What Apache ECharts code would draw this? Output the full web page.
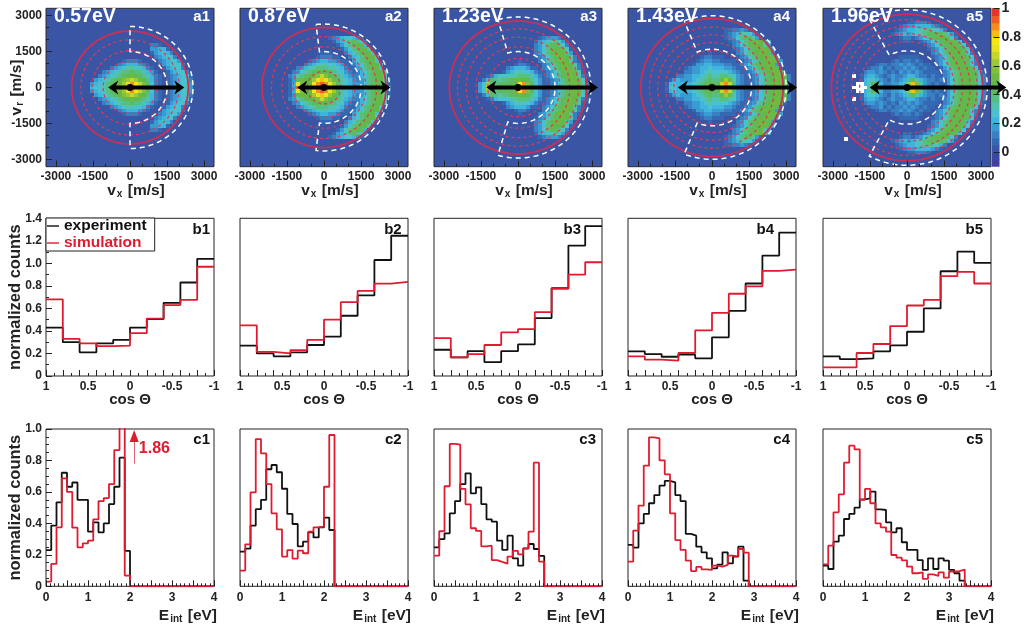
<!DOCTYPE html>
<html><head><meta charset="utf-8">
<style>html,body{margin:0;padding:0;background:#fff}#c{width:1024px;height:626px}</style>
<script src="https://cdn.jsdelivr.net/npm/echarts@6/dist/echarts.min.js"></script>
</head><body><div id="c"></div>
<script>
const energies=['0.57eV','0.87eV','1.23eV','1.43eV','1.96eV'];
const vTicks=[-3000,-1500,0,1500,3000];
const cosLabels=[1,0.5,0,-0.5,-1];
const countTicks=[0,0.2,0.4,0.6,0.8,1,1.2,1.4];
const eintLabels=[0,1,2,3,4];
const colorTicks=[0,0.2,0.4,0.6,0.8,1];
// heat levels: one char per 160 m/s cell, 0..k = 0..1 in 0.05 steps, w = empty; "left of 0|right of 0", row n = vr 160*n
const a1Rows=["4556789adf|igeb852101234563","3455789ace|hfdb852101234563","3456789bc|dca9742101234552","23456789|a987642101234551","2345677|877643100134552","23456|65542100134552","234|44321001345552","12|2210000234553","|000000234552","|00000134542","|0000033441","|00000221"];
const a2Rows=["13id9bhjk|ifc86544335789961","14eb9afhi|hec86543335789961","138a99ceg|eca86543235789961","236789abd|b987643224578995","23567889|9876532124578995","2345677|766542113578995","23456|655431124578995","1234|43321103578995","12|22110024578995","1|1100024578995","|000013578996","|00013578984","|00134678752","|0123455431"];
const a3Rows=["35d878889a|gjc8531123578aa962","35c7788889|fhb8531123578aa962","248767788|a987531123578aa95","12455566|777642123578aa9621","1345|655421123578aa961","234|44311023578aa9621","1|22100023578aa962","|1000023578aa9621","|0000123578aa962","|000023578aa963","|00002357899851","|0000235788752","|0000134567531","|000001233321"];
const a4Rows=["165444456789|88eje73211235789aa83","145444456789|88dhd73211235789aa83","13433345678|778ca63211235789aa82","223344567|6677653211235789aa82","2233456|555543211235789aa81","1233445|44433211235789aa81","13344|3332211235789aa831","1233|22111101235789aa83","122|1110001235789aa83","1|000000235789aa83","|000001235789aa83","|00000235789a963","|00001235789a963","|0001235788631","|000123466531","|0001122321"];
const a5Rows=["wwww68a5323358|djd73221213578999852","ww46974223346|cgb63212113578999852","145643213234|78643221213578999852","w0134432123223|44322121123578999852","23323212132|32321111023578999851","1223121223|2321211013578999851","12212232|321211023578999852","1212|212100023578999852","11|111000123578999851","|00000023578999852","|00000123578999851","|0000023578999851","1|100123578999851","12|2123578999852","1234|3456788887531","123|4456776542","12|334444321","|112221"];
const heatRows=[a1Rows,a2Rows,a3Rows,a4Rows,a5Rows];
const a5Holes=[[-2560,-2240]];
const palette=['#3b55a5','#3568b2','#3a7fc1','#3a9ad2','#3fb4dc','#49c1cf','#52c2ac','#58bf84','#5ebb5c','#63b84a','#6eb942','#83bf3e','#9fc838','#c3d62c','#e6e31c','#f8e50e','#f9bd12','#f58c1e','#ef5d25','#e7352a','#df1f26'];
const solidRings=[2360,2510,2780,2880,3060];
const dashRings=[[1990,1540,1090],[2130,1700,1250,680],[2450,2100,1700,1220],[2530,2200,1880,1540],[2840,2560,2250,1920]];
const outlineOuter=[2550,2650,2950,3000,3250];
const outlineInner=[1500,1500,1500,1600,1530];
const outlineAngle=[90,97,106,112,118];
const arrowLeft=[-880,-1080,-1280,-1380,-1510];
const arrowRight=[2200,2690,3240,3440,4020];
const b1Exp=[.43,.30,.21,.29,.32,.43,.505,.65,.83,1.04];
const b1Sim=[.68,.33,.29,.265,.27,.38,.51,.63,.675,.97];
const b2Exp=[.27,.20,.175,.21,.275,.35,.535,.715,1.03,1.245];
const b2Sim=[.45,.215,.20,.23,.32,.50,.655,.755,.82,.835];
const b3Exp=[.233,.165,.22,.124,.22,.28,.514,.78,1.158,1.33];
const b3Sim=[.337,.165,.195,.275,.387,.416,.567,.774,.90,1.01];
const b4Exp=[.219,.195,.171,.189,.157,.343,.579,.821,1.069,1.273];
const b4Sim=[.174,.145,.136,.204,.405,.561,.73,.795,.933,.945];
const b5Exp=[.174,.15,.157,.219,.272,.393,.6,.93,1.105,1.004];
const b5Sim=[.077,.077,.204,.284,.443,.626,.676,.886,.924,.821];
const c1Exp=[.23,.386,.534,.722,.633,.66,.55,.55,.347,.407,.343,.40,.523,.633,.818,.225];
const c1Sim=[.03,.142,.375,.686,.60,.373,.248,.273,.29,.426,.542,.561,.65,.866,1.86,.068];
const c2Exp=[.22,.24,.386,.49,.55,.744,.771,.725,.62,.46,.396,.254,.284,.343,.311,.375,.436,.358];
const c2Sim=[.10,.267,.597,.936,.845,.65,.464,.362,.189,.23,.176,.227,.21,.347,.375,.379,.633,.962];
const c3Exp=[.248,.30,.337,.464,.542,.65,.718,.591,.629,.523,.426,.411,.29,.231,.322,.178,.131,.241,.269,.237,.193];
const c3Sim=[.195,.35,.636,.905,.90,.619,.521,.369,.352,.254,.258,.167,.155,.144,.189,.225,.203,.24,.347,.786,.157];
const c4Exp=[.263,.246,.40,.46,.528,.58,.64,.67,.66,.58,.542,.333,.322,.252,.216,.178,.114,.138,.216,.146,.189,.252,.036];
const c4Sim=[.157,.354,.513,.767,.947,.94,.80,.712,.464,.294,.231,.163,.097,.123,.108,.104,.131,.125,.136,.195,.189,.237,.214];
const c5Exp=[.131,.11,.284,.322,.428,.46,.50,.553,.559,.602,.489,.485,.407,.343,.369,.28,.231,.231,.167,.104,.178,.11,.178,.163,.104,.083,.036];
const c5Sim=[.14,.258,.47,.585,.786,.894,.871,.549,.619,.528,.40,.375,.347,.199,.182,.165,.125,.083,.089,.047,.076,.066,.089,.055,.093,.097,.106];
const bExp=[b1Exp,b2Exp,b3Exp,b4Exp,b5Exp], bSim=[b1Sim,b2Sim,b3Sim,b4Sim,b5Sim];
const cExp=[c1Exp,c2Exp,c3Exp,c4Exp,c5Exp], cSim=[c1Sim,c2Sim,c3Sim,c4Sim,c5Sim];

const FONT='"Liberation Sans"';
const lefts=[46,240,434,628,823], W=168;
const rowTop=[8.3,218.3,429], rowH=[158.4,157.7,157.3];
const VX=3400, VR=3310, CELL=160;
const BLACK='#111', RED='#e01b2f';
const range=(a,b,s)=>{const o=[];const n=Math.round((b-a)/s);for(let i=0;i<=n;i++)o.push(+(a+i*s).toFixed(6));return o;};
const sub={b:{fontSize:15.5,fontWeight:'bold',fontFamily:FONT,color:'#222'},s:{fontSize:10,fontWeight:'bold',fontFamily:FONT,color:'#222',padding:[7,1,0,1]}};
const NOLINE={show:false,onZero:false};

const grids=[],xAxes=[],yAxes=[],series=[],graphics=[];
function addAxes(grid,o){
  const gi=grids.length; grids.push(grid);
  const lab={fontFamily:FONT,fontWeight:'bold',fontSize:o.labelSize||12,color:'#222'};
  const xi=xAxes.length,yi=yAxes.length;
  xAxes.push({type:'value',gridIndex:gi,position:'bottom',min:o.xMin,max:o.xMax,inverse:!!o.xInv,splitLine:{show:false},axisLine:NOLINE,z:6,nameMoveOverlap:false,
    axisTick:{inside:true,length:o.xTickLen||6,lineStyle:{color:'#222',width:1},customValues:o.xTicks},
    axisLabel:{...lab,margin:o.xMargin||4,customValues:o.xLabels,showMinLabel:true,showMaxLabel:true,formatter:v=>String(v)},
    ...o.xName});
  yAxes.push({type:'value',gridIndex:gi,position:'left',min:o.yMin,max:o.yMax,splitLine:{show:false},axisLine:NOLINE,z:6,nameMoveOverlap:false,
    axisTick:o.yTicks?{inside:true,length:6,lineStyle:{color:'#222',width:1},customValues:o.yTicks}:{show:false},
    axisLabel:o.yLabels?{...lab,margin:4,customValues:o.yLabels,formatter:o.yFmt||(v=>String(v))}:{show:false},
    ...(o.yName||{})});
  xAxes.push({type:'value',gridIndex:gi,position:'bottom',min:o.xMin,max:o.xMax,inverse:!!o.xInv,splitLine:{show:false},axisLine:NOLINE,z:6,
    axisLabel:{show:false},axisTick:{inside:true,length:3,lineStyle:{color:'#222',width:1},customValues:o.xMinor}});
  yAxes.push({type:'value',gridIndex:gi,position:'left',min:o.yMin,max:o.yMax,splitLine:{show:false},axisLine:NOLINE,z:6,
    axisLabel:{show:false},axisTick:o.yMinor?{inside:true,length:3,lineStyle:{color:'#222',width:1},customValues:o.yMinor}:{show:false}});
  return {xi,yi};
}
const yTitle=(name,gap)=>({name,nameLocation:'middle',nameGap:gap,nameTextStyle:{fontFamily:FONT,fontWeight:'bold',fontSize:16.5,color:'#222',rich:sub}});

function text(x,y,s,size,fill,align){
  graphics.push({type:'text',x,y,z:50,silent:true,style:{text:s,fill,align:align||'right',verticalAlign:'middle',font:'bold '+size+'px '+FONT}});
}
function ellipsePts(api,R,a0,a1){
  const pts=[];const n=96;
  for(let i=0;i<=n;i++){const t=(a0+(a1-a0)*i/n)*Math.PI/180;pts.push(api.coord([R*Math.cos(t),R*Math.sin(t)]));}
  return pts;
}
const rowTags=[[210,401.7,597,790,983],[210,401.7,581,774,983],[210,401.7,596,790,983]];

energies.forEach((e,p)=>{
  const ax=addAxes({left:lefts[p],top:rowTop[0],width:W,height:rowH[0],show:true,backgroundColor:palette[0],borderColor:'#2b2b2b',borderWidth:1},{
    xMin:-VX,xMax:VX,yMin:-VR,yMax:VR,xTicks:vTicks,xLabels:vTicks,xMinor:range(-3000,3000,500),
    yTicks:p==0?vTicks:null,yLabels:p==0?vTicks:null,yMinor:p==0?range(-3000,3000,500):null,
    xName:{name:'{b|v}{s|x}{b| [m/s]}',nameLocation:'middle',nameGap:16,nameTextStyle:{rich:sub,padding:[0,0,0,12]}},
    yName:p==0?yTitle('{b|v}{s|r}{b| [m/s]}',21):null});
  const cells=[];
  heatRows[p].forEach((row,r)=>{
    const [L,R]=row.split('|');
    const put=(c,j,sign)=>{ if(c==='0')return;
      const v=c==='w'?-1:parseInt(c,36)*0.05;
      const x=j*CELL*sign-(sign<0?CELL:0);
      cells.push([x,r*CELL-CELL/2,v]);
      if(r>0)cells.push([x,-r*CELL-CELL/2,v]);
    };
    [...L].reverse().forEach((c,k)=>put(c,k,-1));
    [...R].forEach((c,j)=>put(c,j,1));
  });
  if(p===4)a5Holes.forEach(h=>cells.push([h[0],h[1],-1]));
  series.push({type:'custom',xAxisIndex:ax.xi,yAxisIndex:ax.yi,z:2,silent:true,clip:true,animation:false,data:cells,
    encode:{x:0,y:1},
    renderItem:(pr,api)=>{
      const x=api.value(0),y=api.value(1),v=api.value(2);
      const a=api.coord([x,y+CELL]),b=api.coord([x+CELL,y]);
      const l=Math.round(a[0]),t=Math.round(a[1]),rr=Math.round(b[0]),bt=Math.round(b[1]);
      return {type:'rect',shape:{x:l,y:t,width:rr-l,height:bt-t},style:{fill:v<0?'#fff':palette[Math.round(v/0.05)]}};
    }});
  const ringData=[[solidRings[p],1],...dashRings[p].map(r=>[r,0])];
  series.push({type:'custom',xAxisIndex:ax.xi,yAxisIndex:ax.yi,z:3,silent:true,clip:false,animation:false,data:ringData,
    encode:{x:0},
    renderItem:(pr,api)=>{
      const R=api.value(0),solid=api.value(1);
      return {type:'polyline',shape:{points:ellipsePts(api,R,0,360)},
        style:{fill:null,stroke:solid?'#cc2f55':'#dc3a58',lineWidth:solid?1.8:1.3,lineDash:solid?null:[3,3]}};
    }});
  series.push({type:'custom',xAxisIndex:ax.xi,yAxisIndex:ax.yi,z:4,silent:true,clip:false,animation:false,
    data:[[outlineOuter[p],outlineInner[p],outlineAngle[p]]],encode:{x:0},
    renderItem:(pr,api)=>{
      const Ro=api.value(0),Ri=api.value(1),A=api.value(2);
      const pts=[...ellipsePts(api,Ro,A,-A),...ellipsePts(api,Ri,-A,A)];pts.push(pts[0]);
      return {type:'polyline',shape:{points:pts},style:{fill:null,stroke:'#fff',lineWidth:1.5,lineDash:[5,4]}};
    }});
  series.push({type:'custom',xAxisIndex:ax.xi,yAxisIndex:ax.yi,z:5,silent:true,clip:false,animation:false,
    data:[[arrowLeft[p],arrowRight[p]]],encode:{x:0},
    renderItem:(pr,api)=>{
      const a=api.coord([api.value(0),0]),b=api.coord([api.value(1),0]),c=api.coord([0,0]);
      const st={fill:'#000'};
      return {type:'group',children:[
        {type:'line',shape:{x1:a[0]+4,y1:a[1],x2:b[0]-4,y2:b[1]},style:{stroke:'#000',lineWidth:3.8}},
        {type:'polygon',shape:{points:[a,[a[0]+10,a[1]-7],[a[0]+7,a[1]],[a[0]+10,a[1]+7]]},style:st},
        {type:'polygon',shape:{points:[b,[b[0]-10,b[1]-7],[b[0]-7,b[1]],[b[0]-10,b[1]+7]]},style:st},
        {type:'circle',shape:{cx:c[0],cy:c[1],r:3.4},style:st}]};
    }});
  text(lefts[p]+8,17,e,19.5,'#fff','left');
  text(rowTags[0][p],17,'a'+(p+1),15,'#fff');
});

function addLine(ax,name,pts,color){
  series.push({type:'line',name,xAxisIndex:ax.xi,yAxisIndex:ax.yi,data:pts,step:'end',showSymbol:false,symbol:'none',silent:true,animation:false,z:3,clip:true,
    lineStyle:{color,width:1.8},itemStyle:{color}});
}
bExp.forEach((exp,p)=>{
  const ax=addAxes({left:lefts[p],top:rowTop[1],width:W,height:rowH[1],show:true,backgroundColor:'#fff',borderColor:'#222',borderWidth:1},{
    xMin:-1,xMax:1,xInv:true,yMin:0,yMax:1.4,xTicks:range(-1,1,0.2),xLabels:cosLabels,xMinor:range(-1,1,0.1),xMargin:5,
    yTicks:p==0?countTicks:null,yLabels:p==0?countTicks:null,yMinor:p==0?range(0,1.4,0.1):null,yFmt:v=>(v===0?'0':v.toFixed(1)),
    xName:{name:'cos Θ',nameLocation:'middle',nameGap:16,nameTextStyle:{fontFamily:FONT,fontWeight:'bold',fontSize:15,color:'#222'}},
    yName:p==0?yTitle('normalized counts',22):null});
  const pts=arr=>{const o=arr.map((v,i)=>[+(1-0.2*i).toFixed(2),v]);o.push([-1,arr[arr.length-1]]);return o;};
  addLine(ax,'experiment',pts(exp),BLACK);
  addLine(ax,'simulation',pts(bSim[p]),RED);
  text(rowTags[1][p],230,'b'+(p+1),15,'#111');
});
cExp.forEach((exp,p)=>{
  const ax=addAxes({left:lefts[p],top:rowTop[2],width:W,height:rowH[2],show:true,backgroundColor:'#fff',borderColor:'#222',borderWidth:1},{
    xMin:0,xMax:4,yMin:0,yMax:1,xTicks:range(0,4,0.5),xLabels:eintLabels,xMinor:range(0,4,0.1),xMargin:5,
    yTicks:p==0?[0,0.2,0.4,0.6,0.8,1]:null,yLabels:p==0?[0,0.2,0.4,0.6,0.8,1]:null,yMinor:p==0?range(0,1,0.05):null,yFmt:v=>(v===0?'0':v.toFixed(1)),
    xName:{name:'{b|E}{s|int}{b| [eV]}',nameLocation:'end',nameGap:0,nameTextStyle:{align:'right',verticalAlign:'top',rich:sub,padding:[21,-3,0,0]}},
    yName:p==0?yTitle('normalized counts',22):null});
  const pts=arr=>{const o=[];for(let i=0;i<32;i++)o.push([i*0.125,i<arr.length?arr[i]:0]);o.push([4,0]);return o;};
  addLine(ax,'experiment',pts(exp),BLACK);
  addLine(ax,'simulation',pts(cSim[p]),RED);
  text(rowTags[2][p],440,'c'+(p+1),15,'#111');
  if(p===0){
    const s=series[series.length-1];
    s.markLine={silent:true,animation:false,symbol:'none',label:{show:false},
      lineStyle:{color:'#e2606e',width:1,type:'solid'},
      data:[[{coord:[2.1,0.78]},{coord:[2.1,0.95]}]]};
    s.markPoint={silent:true,animation:false,
      data:[
        {coord:[2.21,0.873],symbol:'circle',symbolSize:0,label:{show:true,formatter:'1.86',position:'right',distance:0,color:RED,fontFamily:FONT,fontWeight:'bold',fontSize:16}},
        {coord:[2.1,0.955],symbol:'triangle',symbolSize:[9,12],itemStyle:{color:RED},label:{show:false}}
      ]};
  }
});
const barAx=addAxes({left:992,top:rowTop[0],width:10,height:rowH[0],show:false},{
  xMin:0,xMax:1,yMin:-0.1,yMax:1,xTicks:[],xLabels:[],xMinor:[],yTicks:colorTicks,yLabels:colorTicks,labelSize:14,yFmt:v=>String(v)});
xAxes[barAx.xi].show=false; xAxes[barAx.xi+1].show=false; yAxes[barAx.yi+1].show=false;
yAxes[barAx.yi].position='right';
yAxes[barAx.yi].axisLabel.margin=2;
const barData=[[-0.1,'#433f9f'],[-0.05,'#3a48a2'],...palette.map((c,i)=>[i*0.05,c])];
series.push({type:'custom',xAxisIndex:barAx.xi,yAxisIndex:barAx.yi,z:2,silent:true,clip:true,animation:false,
  data:barData.map(d=>[0,d[0]]),encode:{x:0,y:1},
  renderItem:(pr,api)=>{
    const v=api.value(1);const top=Math.min(v+0.05,1.005);
    const a=api.coord([0,top]),b=api.coord([1,v]);
    return {type:'rect',shape:{x:a[0],y:a[1],width:b[0]-a[0],height:b[1]-a[1]+.5},style:{fill:barData[pr.dataIndex][1]}};
  }});

const chart=echarts.init(document.getElementById('c'),null,{renderer:'canvas'});
chart.setOption({animation:false,backgroundColor:'#fff',
  grid:grids,xAxis:xAxes,yAxis:yAxes,series,graphic:{elements:graphics},
  legend:{show:true,left:46,top:218,orient:'vertical',selectedMode:false,itemWidth:12,itemHeight:15,itemGap:1,itemStyle:{opacity:1},
    padding:[0,8,0,1],backgroundColor:'#fff',borderColor:'#222',borderWidth:1,z:20,icon:'path://M0 7 H12 V8.4 H0 Z',
    textStyle:{fontFamily:FONT,fontWeight:'bold',fontSize:15.5},
    data:[{name:'experiment',textStyle:{color:'#111'}},{name:'simulation',textStyle:{color:RED}}]}
});
</script></body></html>
